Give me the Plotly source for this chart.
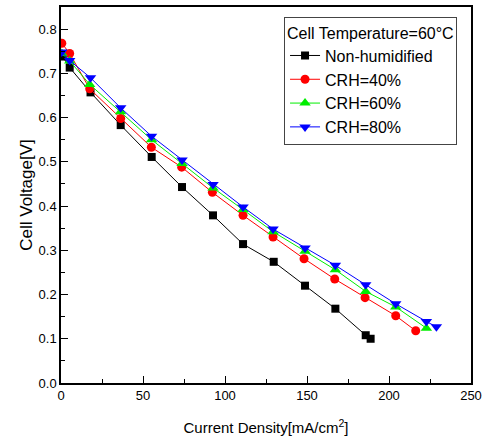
import plotly.graph_objects as go

x_non = [1, 5.3, 18, 36.4, 55.3, 73.8, 92.7, 111, 129.7, 148.8, 167.3, 185.8, 188.8]
y_non = [0.738, 0.713, 0.657, 0.583, 0.511, 0.443, 0.379, 0.314, 0.274, 0.220, 0.168, 0.108, 0.100]

x_40 = [0.5, 5.3, 17.5, 36.4, 55.1, 73.6, 92.3, 111, 129.3, 148.2, 166.9, 185.4, 204.1, 216.3]
y_40 = [0.768, 0.745, 0.665, 0.598, 0.533, 0.488, 0.431, 0.379, 0.330, 0.281, 0.235, 0.193, 0.152, 0.118]

x_60 = [0.5, 5.3, 17.5, 36.3, 55.2, 73.8, 92.7, 111, 129.3, 148.8, 167.3, 185.8, 204.1, 222.8]
y_60 = [0.745, 0.728, 0.675, 0.613, 0.550, 0.496, 0.441, 0.392, 0.342, 0.298, 0.256, 0.207, 0.172, 0.124]

x_80 = [0.5, 5.3, 18, 36.4, 55.2, 73.8, 92.7, 111, 129.3, 148.8, 167.3, 185.8, 204.1, 222.8, 228.9]
y_80 = [0.748, 0.729, 0.690, 0.622, 0.558, 0.504, 0.449, 0.398, 0.348, 0.305, 0.266, 0.222, 0.179, 0.139, 0.127]

names = ["Non-humidified", "CRH=40%", "CRH=60%", "CRH=80%"]
colors = ["#000000", "#ff0000", "#00ee00", "#0000ff"]
symbols = ["square", "circle", "triangle-up", "triangle-down"]
sizes = [8, 9, 10, 10]

fig = go.Figure()
for xs, ys, n, c, s, sz in zip([x_non, x_40, x_60, x_80], [y_non, y_40, y_60, y_80],
                               names, colors, symbols, sizes):
    fig.add_trace(go.Scatter(x=xs, y=ys, name=n, mode="lines+markers",
                             line=dict(color=c, width=1),
                             marker=dict(symbol=s, color=c, size=sz)))

font = "Liberation Sans, Arial, sans-serif"
fig.update_layout(
    width=485, height=440,
    margin=dict(l=61, r=14, t=7, b=57),
    paper_bgcolor="white", plot_bgcolor="white",
    font=dict(family=font, size=13, color="black"),
    legend=dict(
        title=dict(text="Cell Temperature=60°C", font=dict(size=16)),
        x=0.544, y=0.974, xanchor="left", yanchor="top",
        bordercolor="#444", borderwidth=1, bgcolor="white",
        font=dict(size=16), tracegroupgap=0, itemwidth=30,
    ),
    showlegend=True,
)
fig.update_xaxes(
    range=[0, 250], tickvals=[0, 50, 100, 150, 200, 250],
    ticks="inside", ticklen=7, tickwidth=1, tickcolor="black",
    minor=dict(tickvals=[25, 75, 125, 175, 225], ticks="inside", ticklen=4, tickcolor="black"),
    showline=True, linecolor="black", linewidth=1.5, mirror=True,
    showgrid=False, zeroline=False, automargin=False,
    title=dict(text="Current Density[mA/cm<sup>2</sup>]", font=dict(size=15), standoff=20),
)
fig.update_yaxes(
    range=[0, 0.85], tickvals=[0, 0.1, 0.2, 0.3, 0.4, 0.5, 0.6, 0.7, 0.8], tickformat=".1f",
    ticks="inside", ticklen=7, tickwidth=1, tickcolor="black",
    minor=dict(tickvals=[0.05, 0.15, 0.25, 0.35, 0.45, 0.55, 0.65, 0.75], ticks="inside", ticklen=4, tickcolor="black"),
    showline=True, linecolor="black", linewidth=1.5, mirror=True,
    showgrid=False, zeroline=False, automargin=False,
    title=dict(text="Cell Voltage[V]", font=dict(size=17), standoff=2),
)
fig.write_html("out.html", config={"displayModeBar": False},
               post_script="document.body.style.margin='0';")
